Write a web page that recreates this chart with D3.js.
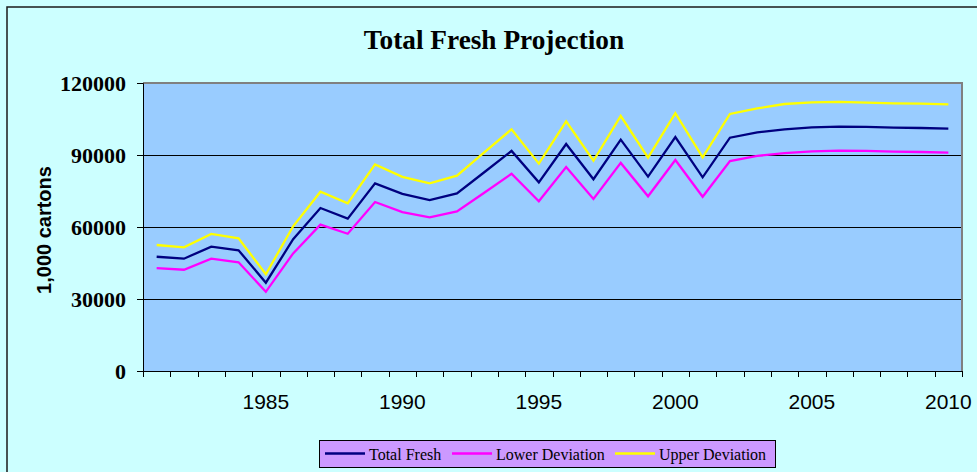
<!DOCTYPE html>
<html><head><meta charset="utf-8">
<script src="https://cdn.jsdelivr.net/npm/d3@7"></script>
<style>html,body{margin:0;padding:0;background:#CCFFFF;overflow:hidden}svg{display:block}</style>
</head><body><svg id="chart" width="977" height="472"></svg>
<script>
const years = [1981,1982,1983,1984,1985,1986,1987,1988,1989,1990,1991,1992,1993,1994,1995,1996,1997,1998,1999,2000,2001,2002,2003,2004,2005,2006,2007,2008,2009,2010];
const totalFresh = [47600,46800,51800,50300,36800,54900,67900,63500,78200,73800,71250,74000,82800,91700,78600,94600,79900,96400,81000,97500,80700,97200,99400,100700,101500,101800,101700,101400,101250,101000];
const lowerDeviation = [42900,42200,46800,45300,33000,49000,61000,57200,70400,66200,64000,66500,74300,82200,70700,85000,71700,86700,72800,87900,72600,87500,89600,90800,91500,91800,91700,91400,91250,91000];
const upperDeviation = [52500,51500,57100,55300,40300,60300,74700,69900,86100,80900,78200,81400,91100,100700,86400,104000,87600,106250,88900,107400,89000,107100,109400,111250,111900,112100,111800,111500,111400,111100];
const seriesNames = ["Total Fresh","Lower Deviation","Upper Deviation"];
const seriesColors = ["#000080","#FF00FF","#FFFF00"];
const yTicks = [0,30000,60000,90000,120000];
const xTickLabels = [1985,1990,1995,2000,2005,2010];
const titleText = "Total Fresh Projection";
const yTitleText = "1,000 cartons";

const svg = d3.select("#chart");
const P = {left:143, top:83, right:962, bottom:371};
const serif = "'Times New Roman','Liberation Serif',serif";
const sans = "Arial,'Liberation Sans',sans-serif";

// outer frame
svg.append("rect").attr("x",7).attr("y",7).attr("width",1000).attr("height",500)
  .attr("fill","#CCFFFF").attr("stroke","#1a1a1a").attr("stroke-width",1.5);

const x = d3.scaleBand().domain(years).range([P.left,P.right]);
const y = d3.scaleLinear().domain([0,120000]).range([P.bottom,P.top]);

// plot area
svg.append("rect").attr("x",P.left).attr("y",P.top).attr("width",P.right-P.left).attr("height",P.bottom-P.top)
  .attr("fill","#99CCFF");

// gridlines
svg.append("g").selectAll("line").data(yTicks.filter(v=>v>0 && v<120000)).join("line")
  .attr("x1",P.left).attr("x2",P.right).attr("y1",d=>Math.round(y(d))+0.5).attr("y2",d=>Math.round(y(d))+0.5)
  .attr("stroke","#000").attr("stroke-width",1);

// grey top/right border
svg.append("path").attr("d",`M${P.left},${P.top}H${P.right}V${P.bottom}`)
  .attr("fill","none").attr("stroke","#808080").attr("stroke-width",2);

// series lines
const series = [totalFresh, lowerDeviation, upperDeviation];
const line = d3.line().x((d,i)=>x(years[i])+x.bandwidth()/2).y(d=>y(d));
svg.append("g").selectAll("path").data(series).join("path")
  .attr("d",d=>line(d)).attr("fill","none")
  .attr("stroke",(d,i)=>seriesColors[i]).attr("stroke-width",2.3).attr("stroke-linejoin","miter");

// y axis
const yAxis = svg.append("g").attr("transform",`translate(${P.left},0)`)
  .call(d3.axisLeft(y).tickValues(yTicks).tickFormat(d3.format("d")).tickSize(6).tickPadding(11));
yAxis.selectAll("path,line").attr("stroke","#000");
yAxis.selectAll("text").attr("font-family",serif).attr("font-weight","bold").attr("font-size",22).attr("fill","#000");

// x axis: labels
const xAxis = svg.append("g").attr("transform",`translate(0,${P.bottom})`)
  .call(d3.axisBottom(x).tickValues(xTickLabels).tickSize(0).tickPadding(23));
xAxis.select(".domain").remove();
xAxis.selectAll("text").attr("font-family",sans).attr("font-size",21).attr("fill","#000");
// x axis: tick marks at category boundaries
const bounds = years.map(d=>x(d)).concat([P.right]);
svg.append("g").selectAll("line").data(bounds).join("line")
  .attr("x1",d=>Math.round(d)+0.5).attr("x2",d=>Math.round(d)+0.5).attr("y1",P.bottom).attr("y2",P.bottom+6)
  .attr("stroke","#000");
svg.append("line").attr("x1",P.left).attr("x2",P.right).attr("y1",P.bottom+0.5).attr("y2",P.bottom+0.5).attr("stroke","#000");

// title
svg.append("text").attr("x",494).attr("y",49).attr("text-anchor","middle")
  .attr("font-family",serif).attr("font-weight","bold").attr("font-size",27.3).text(titleText);

// y title
svg.append("text").attr("transform","translate(51,230) rotate(-90)").attr("text-anchor","middle")
  .attr("font-family",sans).attr("font-weight","bold").attr("font-size",20).text(yTitleText);

// legend
const lg = svg.append("g");
lg.append("rect").attr("x",319.5).attr("y",440.5).attr("width",456).attr("height",27)
  .attr("fill","#CC99FF").attr("stroke","#000").attr("stroke-width",1);
const legendX = [325,452,615];
const items = lg.selectAll("g").data(seriesNames).join("g")
  .attr("transform",(d,i)=>`translate(${legendX[i]},0)`);
items.append("line").attr("x1",0).attr("x2",40).attr("y1",453.5).attr("y2",453.5)
  .attr("stroke",(d,i)=>seriesColors[i]).attr("stroke-width",2.3);
items.append("text").attr("x",44).attr("y",459.5).attr("font-family",serif).attr("font-size",16).text(d=>d);
</script>
</body></html>
